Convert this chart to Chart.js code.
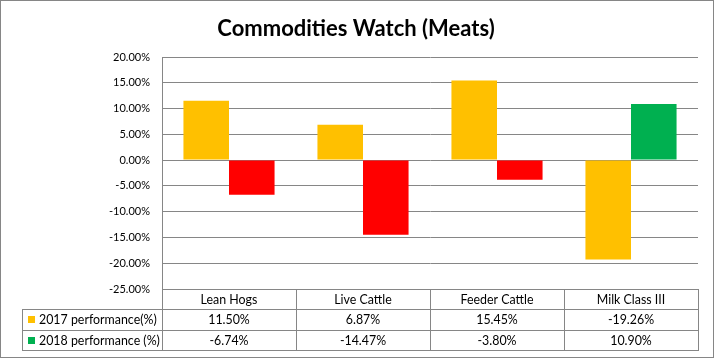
<!DOCTYPE html>
<html>
<head>
<meta charset="utf-8">
<script src="https://cdn.jsdelivr.net/npm/chart.js@4"></script>
<style>
html,body{margin:0;padding:0;background:#fff;}
canvas{display:block;}
</style>
</head>
<body>
<canvas id="c" width="714" height="358"></canvas>
<script>
const categories = ["Lean Hogs", "Live Cattle", "Feeder Cattle", "Milk Class III"];
const series2017 = [11.50, 6.87, 15.45, -19.26];
const series2018 = [-6.74, -14.47, -3.80, 10.90];
const seriesNames = ["2017 performance(%)", "2018 performance (%)"];
const yTicks = [20, 15, 10, 5, 0, -5, -10, -15, -20, -25];
const chartTitle = "Commodities Watch (Meats)";

const GOLD = "#FFC000", RED = "#FF0000", GREEN = "#00B050", GRID = "#868686";

const tablePlugin = {
  id: "dataTable",
  afterDraw(chart) {
    const ctx = chart.ctx;
    const area = chart.chartArea;
    const x = chart.scales.x;
    const n = categories.length;
    const cw = (area.right - area.left) / n;
    const top = area.bottom;
    const rowH = 20.3;
    const r1 = top + rowH, r2 = top + 2 * rowH, r3 = top + 3 * rowH;
    const legLeft = 22;
    ctx.save();
    ctx.strokeStyle = GRID;
    ctx.lineWidth = 1;
    const h = (x1, x2, y) => { y = Math.round(y) + 0.5; ctx.beginPath(); ctx.moveTo(x1, y); ctx.lineTo(x2, y); ctx.stroke(); };
    const v = (xx, y1, y2) => { xx = Math.round(xx) + 0.5; ctx.beginPath(); ctx.moveTo(xx, y1); ctx.lineTo(xx, y2); ctx.stroke(); };
    h(legLeft, area.right, r1);
    h(legLeft, area.right, r2);
    h(legLeft, area.right, r3);
    v(legLeft, Math.round(r1) + 0.5, Math.round(r3) + 1);
    for (let i = 0; i <= n; i++) {
      v(area.left + i * cw - (i === 0 ? 0.5 : 0) , top, Math.round(r3) + 1);
    }
    ctx.fillStyle = "#000";
    ctx.font = "12.4px Lato";
    ctx.textAlign = "center";
    ctx.textBaseline = "middle";
    const all = [series2017, series2018];
    for (let i = 0; i < n; i++) {
      const cx = x.getPixelForValue(i);
      ctx.fillText(categories[i], cx, (top + r1) / 2 + 1);
      ctx.fillText(all[0][i].toFixed(2) + "%", cx, (r1 + r2) / 2 + 1);
      ctx.fillText(all[1][i].toFixed(2) + "%", cx, (r2 + r3) / 2 + 1);
    }
    ctx.textAlign = "left";
    const keyColors = [GOLD, GREEN];
    [r1, r2].forEach((ry, k) => {
      const cy = ry + rowH / 2;
      ctx.fillStyle = keyColors[k];
      ctx.fillRect(28, Math.round(cy) - 3, 7, 7);
      ctx.fillStyle = "#000";
      ctx.fillText(seriesNames[k], 39, cy + 1);
    });
    // title
    ctx.textAlign = "center";
    ctx.font = "bold 22px Lato";
    ctx.fillText(chartTitle, 356, 29);
    // outer border
    ctx.strokeStyle = GRID;
    ctx.strokeRect(0.5, 0.5, chart.width - 1, chart.height - 1);
    ctx.restore();
  }
};

new Chart(document.getElementById("c"), {
  type: "bar",
  data: {
    labels: categories,
    datasets: [
      { label: seriesNames[0], data: series2017, backgroundColor: GOLD },
      { label: seriesNames[1], data: series2018,
        backgroundColor: (c) => (c.raw < 0 ? RED : GREEN) }
    ]
  },
  options: {
    responsive: false,
    animation: false,
    devicePixelRatio: 1,
    layout: { padding: { top: 57, bottom: 69, left: 0, right: 16 } },
    datasets: { bar: { categoryPercentage: 0.68, barPercentage: 1.0 } },
    plugins: { legend: { display: false }, title: { display: false }, tooltip: { enabled: false } },
    scales: {
      x: { display: false },
      y: {
        min: yTicks[yTicks.length - 1],
        max: yTicks[0],
        afterFit: (s) => { s.width = 162; },
        afterBuildTicks: (s) => { s.ticks = yTicks.map(v => ({ value: v })); },
        ticks: {
          callback: (v) => v.toFixed(2) + "%",
          font: { family: "Lato", size: 11 },
          color: "#000",
          padding: 12
        },
        grid: { color: GRID, drawTicks: false, lineWidth: 1 },
        border: { display: true, color: GRID }
      }
    }
  },
  plugins: [tablePlugin]
});
</script>
</body>
</html>
